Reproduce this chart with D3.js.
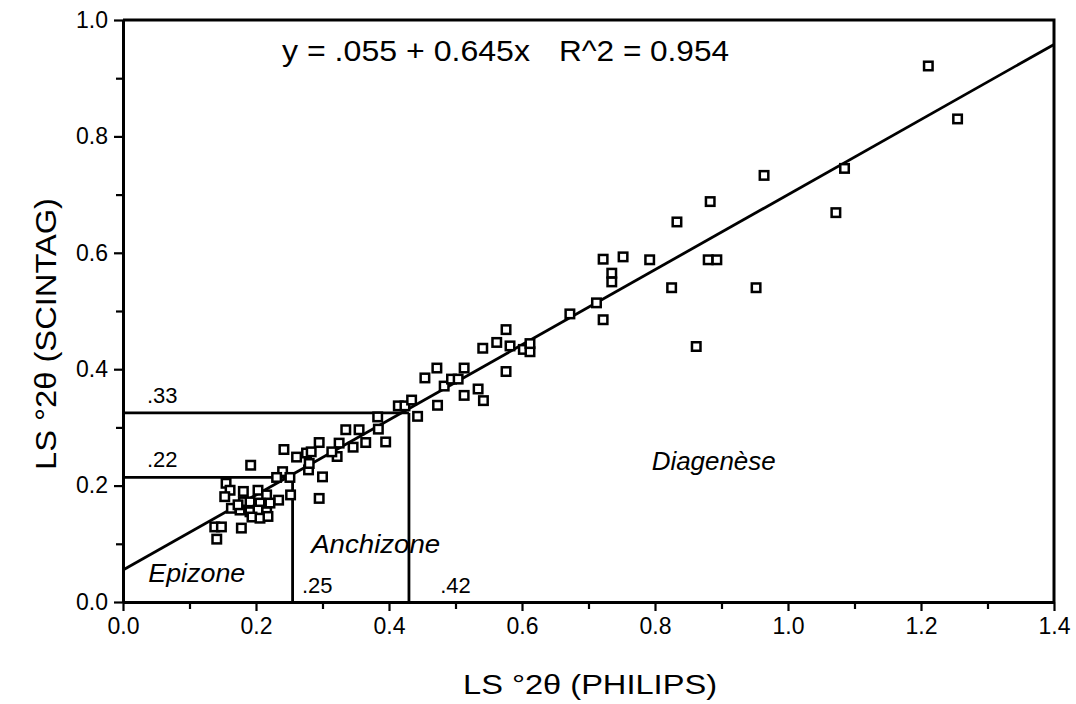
<!DOCTYPE html>
<html>
<head>
<meta charset="utf-8">
<script src="https://cdn.jsdelivr.net/npm/d3@7"></script>
<style>
  html, body { margin: 0; padding: 0; background: #fff; }
  svg { display: block; }
  text { font-family: "Liberation Sans", Arial, Helvetica, sans-serif; fill: #000; }
</style>
</head>
<body>
<svg id="chart" width="1076" height="704"></svg>
<script>
// ---- data ----
const xPhilips = [
  0.242,0.192,0.261,0.276,0.279,0.240,0.231,0.251,0.252,0.234,
  0.155,0.161,0.153,0.181,0.203,0.216,0.181,0.191,0.206,0.221,
  0.163,0.176,0.191,0.203,0.216,0.194,0.206,0.218,0.173,0.138,
  0.148,0.178,0.141,0.283,0.295,0.280,0.300,0.325,0.322,0.314,
  0.295,0.335,0.355,0.346,0.365,0.384,0.395,0.383,0.414,0.424,
  0.434,0.443,0.473,0.513,0.542,0.534,0.454,0.472,0.483,0.494,
  0.504,0.513,0.541,0.562,0.576,0.582,0.602,0.612,0.612,0.576,
  0.672,0.712,0.722,0.722,0.752,0.792,0.735,0.735,0.880,0.893,
  0.825,0.952,0.862,0.833,0.883,0.964,1.072,1.085,1.211,1.255
];
const yScintag = [
  0.262,0.235,0.249,0.256,0.227,0.224,0.214,0.214,0.184,0.175,
  0.204,0.192,0.181,0.190,0.192,0.184,0.172,0.172,0.170,0.170,
  0.161,0.158,0.155,0.158,0.155,0.146,0.144,0.147,0.167,0.129,
  0.129,0.127,0.108,0.258,0.274,0.238,0.215,0.273,0.250,0.258,
  0.178,0.296,0.296,0.266,0.274,0.297,0.275,0.318,0.337,0.337,
  0.347,0.319,0.338,0.355,0.346,0.366,0.385,0.402,0.371,0.383,
  0.383,0.402,0.436,0.446,0.468,0.440,0.434,0.430,0.444,0.396,
  0.495,0.514,0.485,0.589,0.593,0.588,0.565,0.550,0.588,0.588,
  0.540,0.540,0.439,0.653,0.688,0.733,0.669,0.745,0.921,0.830
];
const fitIntercept = 0.055;
const fitSlope = 0.645;
const xTicksMajor = [0.0, 0.2, 0.4, 0.6, 0.8, 1.0, 1.2, 1.4];
const xTicksMinor = [0.1, 0.3, 0.5, 0.7, 0.9, 1.1, 1.3];
const yTicksMajor = [0.0, 0.2, 0.4, 0.6, 0.8, 1.0];
const yTicksMinor = [0.1, 0.3, 0.5, 0.7, 0.9];
// zone boundaries
const zoneX = [0.255, 0.43];
const zoneY = [0.214, 0.325];
const zoneYLabels = [".22", ".33"];
const zoneXLabels = [".25", ".42"];
const zoneXLabelPos = [0.269, 0.477];
const zoneNames = ["Epizone", "Anchizone", "Diagenèse"];
const zoneNamePos = [[0.038, 0.035], [0.283, 0.085], [0.795, 0.227]];
const equationText = "y = .055 + 0.645x";
const r2Text = "R^2 = 0.954";
const xTitle = "LS °2θ (PHILIPS)";
const yTitle = "LS °2θ (SCINTAG)";

// ---- drawing ----
const svg = d3.select("#chart");
const x = d3.scaleLinear().domain([0, 1.4]).range([123, 1054]);
const y = d3.scaleLinear().domain([0, 1]).range([602, 20]);

// threshold lines
const zg = svg.append("g").attr("stroke", "#000").attr("stroke-width", 2.8).attr("fill", "none");
zoneX.forEach((zx, i) => {
  zg.append("line").attr("x1", x(0)).attr("x2", x(zx)).attr("y1", y(zoneY[i])).attr("y2", y(zoneY[i]));
  zg.append("line").attr("x1", x(zx)).attr("x2", x(zx)).attr("y1", y(0)).attr("y2", y(zoneY[i]));
});

// regression line
svg.append("line")
  .attr("x1", x(0)).attr("y1", y(fitIntercept))
  .attr("x2", x(1.4)).attr("y2", y(fitIntercept + fitSlope * 1.4))
  .attr("stroke", "#000").attr("stroke-width", 2.8);

// points
const s = 8.5;
svg.append("g").selectAll("rect").data(xPhilips.map((d, i) => [d, yScintag[i]]))
  .join("rect")
  .attr("x", d => x(d[0]) - s / 2).attr("y", d => y(d[1]) - s / 2)
  .attr("width", s).attr("height", s)
  .attr("fill", "#fff").attr("stroke", "#000").attr("stroke-width", 2.5);

// axes
function styleAxis(g) {
  g.select(".domain").attr("stroke-width", 3);
  g.selectAll(".tick line").attr("stroke-width", 2.2);
  g.selectAll(".tick text").attr("font-size", 23).attr("font-family", "Liberation Sans, Arial, sans-serif");
}
svg.append("g").attr("transform", `translate(0,${y(0)})`)
  .call(d3.axisBottom(x).tickValues(xTicksMinor).tickSize(7).tickFormat(""))
  .call(g => { g.select(".domain").remove(); g.selectAll(".tick line").attr("stroke-width", 2.2); });
svg.append("g").attr("transform", `translate(${x(0)},0)`)
  .call(d3.axisLeft(y).tickValues(yTicksMinor).tickSize(7).tickFormat(""))
  .call(g => { g.select(".domain").remove(); g.selectAll(".tick line").attr("stroke-width", 2.2); });
svg.append("g").attr("transform", `translate(0,${y(0)})`)
  .call(d3.axisBottom(x).tickValues(xTicksMajor).tickSize(9).tickSizeOuter(0).tickPadding(7).tickFormat(d3.format(".1f")))
  .call(styleAxis);
svg.append("g").attr("transform", `translate(${x(0)},0)`)
  .call(d3.axisLeft(y).tickValues(yTicksMajor).tickSize(9).tickSizeOuter(0).tickPadding(6).tickFormat(d3.format(".1f")))
  .call(styleAxis);

// frame top/right
svg.append("path")
  .attr("d", `M${x(0)},${y(1)}H${x(1.4)}V${y(0)}`)
  .attr("fill", "none").attr("stroke", "#000").attr("stroke-width", 3);

// zone labels
zoneYLabels.forEach((t, i) => {
  svg.append("text").attr("x", x(0.036)).attr("y", y(zoneY[i]) - 10)
    .attr("font-size", 22).text(t);
});
zoneXLabels.forEach((t, i) => {
  svg.append("text").attr("x", x(zoneXLabelPos[i])).attr("y", y(0) - 9)
    .attr("font-size", 22).text(t);
});
const nameWidths = [97, 129, 124];
zoneNames.forEach((t, i) => {
  svg.append("text").attr("x", x(zoneNamePos[i][0])).attr("y", y(zoneNamePos[i][1]))
    .attr("font-size", 26).attr("font-style", "italic")
    .attr("textLength", nameWidths[i]).attr("lengthAdjust", "spacingAndGlyphs").text(t);
});

// equation
svg.append("text").attr("x", 282).attr("y", 61).attr("font-size", 29)
  .attr("textLength", 248).attr("lengthAdjust", "spacingAndGlyphs").text(equationText);
svg.append("text").attr("x", 559).attr("y", 61).attr("font-size", 29)
  .attr("textLength", 170).attr("lengthAdjust", "spacingAndGlyphs").text(r2Text);

// axis titles
svg.append("text").attr("x", 590).attr("y", 694).attr("text-anchor", "middle")
  .attr("font-size", 28).attr("textLength", 254).attr("lengthAdjust", "spacingAndGlyphs").text(xTitle);
svg.append("text").attr("transform", "translate(56,334) rotate(-90)").attr("text-anchor", "middle")
  .attr("font-size", 30).attr("textLength", 272).attr("lengthAdjust", "spacingAndGlyphs").text(yTitle);
</script>
</body>
</html>
